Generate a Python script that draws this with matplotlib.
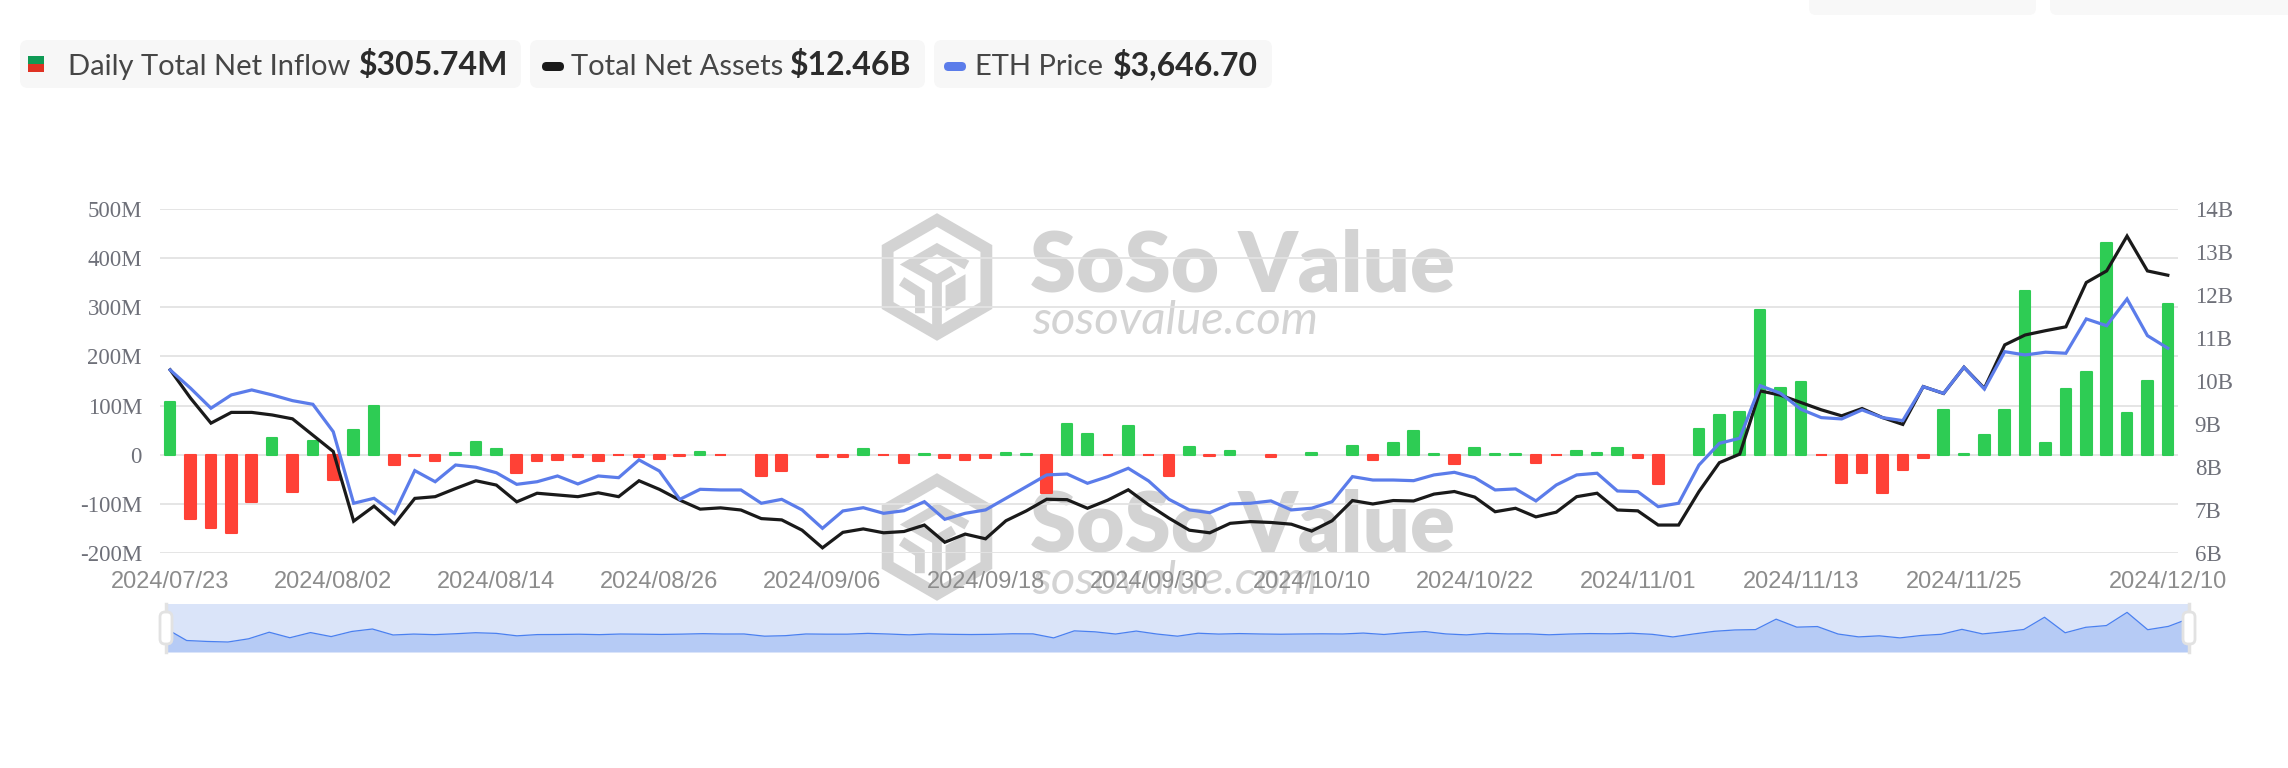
import numpy as np
import pandas as pd
import matplotlib
matplotlib.use("Agg")
import matplotlib.pyplot as plt
from matplotlib.patches import FancyBboxPatch, RegularPolygon, Polygon
from matplotlib.lines import Line2D
from matplotlib.transforms import IdentityTransform

# trading days of the ETH spot ETFs, 2024/07/23 - 2024/12/10
dates = pd.bdate_range("2024-07-23", "2024-12-10", freq="C",
                       holidays=["2024-09-02", "2024-11-28"])
date_labels = [d.strftime("%Y/%m/%d") for d in dates]

# daily total net inflow, $M
net_inflow = [
    107, -130, -149, -160, -96, 35, -75, 28, -52, 50,
    99, -20, -2, -13, 4, 25, 12, -37, -12, -10,
    -5, -13, -1, -4, -9, -3, 6, -1, 0, -44,
    -34, 0, -4, -4, 12, -1, -17, 1, -7, -11,
    -7, 4, 2, -78, 62, 43, -1, 58, -1, -44,
    15, -2, 8, 0, -5, 0, 3, 0, 18, -10,
    24, 48, 1, -18, 13, 1, 2, -16, -1, 8,
    3, 14, -7, -59, 0, 53, 80, 87, 295, 136,
    148, -1, -58, -37, -78, -31, -6, 92, 1, 41,
    90, 333, 24, 133, 168, 430, 85, 151, 305.74,
]

# total net assets, $B
net_assets = [
    10.26, 9.60, 9.02, 9.27, 9.27, 9.21, 9.12, 8.74, 8.36, 6.74,
    7.09, 6.67, 7.27, 7.31, 7.50, 7.68, 7.58, 7.19, 7.39, 7.35,
    7.31, 7.40, 7.31, 7.68, 7.48, 7.23, 7.02, 7.05, 7.00, 6.80,
    6.77, 6.53, 6.12, 6.48, 6.56, 6.47, 6.50, 6.65, 6.25, 6.44,
    6.33, 6.75, 6.98, 7.25, 7.24, 7.04, 7.23, 7.47, 7.12, 6.81,
    6.53, 6.47, 6.69, 6.73, 6.71, 6.67, 6.51, 6.75, 7.22, 7.14,
    7.22, 7.21, 7.37, 7.43, 7.30, 6.96, 7.04, 6.84, 6.95, 7.31,
    7.39, 7.00, 6.98, 6.65, 6.65, 7.43, 8.10, 8.30, 9.77, 9.67,
    9.50, 9.33, 9.19, 9.36, 9.15, 8.99, 9.87, 9.71, 10.32, 9.83,
    10.84, 11.07, 11.17, 11.26, 12.29, 12.56, 13.37, 12.56, 12.46,
]

# ETH price, $
eth_price = [
    3480, 3340, 3187, 3289, 3327, 3289, 3245, 3217, 3007, 2459,
    2497, 2382, 2709, 2624, 2752, 2735, 2693, 2604, 2624, 2668,
    2607, 2668, 2655, 2791, 2706, 2489, 2566, 2561, 2561, 2459,
    2489, 2408, 2267, 2400, 2425, 2382, 2402, 2471, 2336, 2382,
    2408, 2497, 2586, 2676, 2683, 2612, 2663, 2727, 2630, 2489,
    2408, 2387, 2454, 2459, 2477, 2408, 2421, 2471, 2663, 2637,
    2637, 2632, 2676, 2696, 2655, 2561, 2569, 2477, 2599, 2676,
    2689, 2553, 2548, 2433, 2459, 2752, 2918, 2957, 3360, 3301,
    3179, 3115, 3105, 3174, 3115, 3092, 3352, 3301, 3501, 3334,
    3620, 3595, 3616, 3608, 3871, 3819, 4024, 3743, 3646.70,
]

left_ticks = [-200, -100, 0, 100, 200, 300, 400, 500]
left_labels = ["-200M", "-100M", "0", "100M", "200M", "300M", "400M", "500M"]
right_ticks = [6, 7, 8, 9, 10, 11, 12, 13, 14]
right_labels = [f"{v}B" for v in right_ticks]
xtick_idx = list(range(0, 89, 8)) + [98]

GREEN = "#2ecc54"
RED = "#ff4136"
BLUE = "#5b7cea"
BLACK = "#1a1a1a"
AXIS_GREY = "#6e7079"

W, H = 2288, 768
fig = plt.figure(figsize=(W / 100, H / 100), dpi=100)
ident = IdentityTransform()


def pbox(x0, y0, x1, y1, fc, r=6, ec="none", lw=0, z=1):
    p = FancyBboxPatch((x0, H - y1), x1 - x0, y1 - y0,
                       boxstyle=f"round,pad=0,rounding_size={r}",
                       transform=ident, fc=fc, ec=ec, lw=lw, zorder=z)
    fig.add_artist(p)
    return p


def ftext(x, y, s, **kw):
    return fig.text(x / W, 1 - y / H, s, **kw)


# watermark (two copies)
WM = "#d3d3d3"


def watermark(dy):
    cx, cy, r = 937, 277 + dy, 57
    fig.add_artist(RegularPolygon((cx, H - cy), 6, radius=r, transform=ident,
                                  fill=False, ec=WM, lw=8.5, zorder=-2))
    def pt(u, v):
        return (cx + u * r, H - cy + v * r)
    for path in ([(0.45, 0.25), (0, 0.5), (-0.48, 0.22), (0.0, -0.05), (0.22, 0.08)],
                 [(-0.55, -0.12), (-0.3, -0.28), (-0.3, -0.55)],
                 [(0.0, -0.05), (0.0, -0.95)]):
        xs, ys = zip(*[pt(u, v) for u, v in path])
        fig.add_artist(Line2D(xs, ys, transform=ident, color=WM, lw=7,
                              solid_joinstyle="miter", zorder=-2))
    fig.add_artist(Polygon([pt(0.15, -0.15), pt(0.5, 0.05), pt(0.5, -0.4), pt(0.15, -0.6)],
                           closed=True, transform=ident, fc=WM, ec="none", zorder=-2))
    ftext(1030, 292 + dy, "SoSo Value", fontsize=60, fontfamily="Lato",
          fontweight="heavy", color=WM, va="baseline", zorder=-2)
    ftext(1032, 334 + dy, "sosovalue.com", fontsize=34, fontfamily="Lato",
          fontstyle="italic", color="#d3d3d3", va="baseline", zorder=-2)


watermark(0)
watermark(260)

# main chart
ax = fig.add_axes([160 / W, 1 - 553 / H, (2178 - 160) / W, (553 - 209) / H])
ax.set_facecolor("none")
x = np.arange(len(dates))
vals = np.array(net_inflow, dtype=float)
colors = [GREEN if v > 0 else (RED if v < 0 else "none") for v in vals]
ax.bar(x, vals, width=0.52, color=colors, edgecolor=colors, linewidth=1.5,
       joinstyle="round", zorder=3)
ax.set_xlim(-0.5, len(dates) - 0.5)
ax.set_ylim(-200, 500)
ax.set_yticks(left_ticks)
ax.set_yticklabels(left_labels, fontfamily="Liberation Serif", fontsize=16.5, color=AXIS_GREY)
ax.set_xticks(xtick_idx)
ax.set_xticklabels([date_labels[i] for i in xtick_idx], fontfamily="Liberation Sans",
                   fontsize=17, color="#8c8c8c")
ax.tick_params(axis="y", length=0, pad=13)
ax.tick_params(axis="x", length=0, pad=13)
ax.grid(axis="y", color="#e3e3e3", lw=1.3, zorder=0)
ax.set_axisbelow(True)
for s in ax.spines.values():
    s.set_visible(False)

ax2 = ax.twinx()
ax2.plot(x, net_assets, color=BLACK, lw=2.3, solid_joinstyle="miter")
ax2.set_ylim(6, 14)
ax2.set_yticks(right_ticks)
ax2.set_yticklabels(right_labels, fontfamily="Liberation Serif", fontsize=16.5, color=AXIS_GREY)
ax2.tick_params(axis="y", length=0, pad=12)
for s in ax2.spines.values():
    s.set_visible(False)

ax3 = ax.twinx()
ax3.plot(x, eth_price, color=BLUE, lw=2.3, solid_joinstyle="miter")
ax3.set_ylim(2078, 4713)
ax3.set_axis_off()

# legend boxes
pbox(20, 40, 521, 88, "#f7f7f7", r=8)
pbox(530, 40, 925, 88, "#f7f7f7", r=8)
pbox(934, 40, 1272, 88, "#f7f7f7", r=8)
fig.add_artist(FancyBboxPatch((28, H - 64), 16, 8, boxstyle="square,pad=0",
                              transform=ident, fc="#0f9a55", ec="none"))
fig.add_artist(FancyBboxPatch((28, H - 72), 16, 8, boxstyle="square,pad=0",
                              transform=ident, fc="#df3223", ec="none"))
pbox(542, 62, 564, 71, BLACK, r=4.5)
pbox(944, 62, 966, 71, BLUE, r=4.5)

lab_kw = dict(fontfamily="Lato", fontsize=21, color="#464646", va="baseline")
val_kw = dict(fontfamily="Lato", fontsize=23, fontweight="bold", color="#2b2b2b", va="baseline")
ftext(68, 75, "Daily Total Net Inflow", **lab_kw)
ftext(359, 75, "$305.74M", **val_kw)
ftext(571, 75, "Total Net Assets", **lab_kw)
ftext(790, 75, "$12.46B", **val_kw)
ftext(975, 75, "ETH Price", **lab_kw)
ftext(1113, 75, "$3,646.70", **val_kw)

# cropped buttons at the top-right edge
pbox(1809, -20, 2036, 15, "#f8f8f8", r=7)
pbox(2050, -20, 2300, 15, "#f8f8f8", r=7)

# data-zoom slider
axm = fig.add_axes([166 / W, 1 - 652 / H, (2189 - 166) / W, 48 / H])
axm.set_facecolor("#dae4f9")
axm.fill_between(x, vals, -359, color="#b6cbf5", lw=0)
axm.plot(x, vals, color="#4a80f0", lw=0.9)
axm.set_xlim(0, len(dates) - 1)
axm.set_ylim(-359, 597)
axm.set_xticks([])
axm.set_yticks([])
for s in axm.spines.values():
    s.set_visible(False)

for hx in (166, 2189):
    fig.add_artist(Line2D([hx, hx], [H - 604, H - 652], transform=ident,
                          color="#e2e2e2", lw=2.5, zorder=4))
    pbox(hx - 6, 612, hx + 6, 644, "white", r=5, ec="#e2e2e2", lw=2, z=5)

fig.savefig("out.png", dpi=100, facecolor="white")
